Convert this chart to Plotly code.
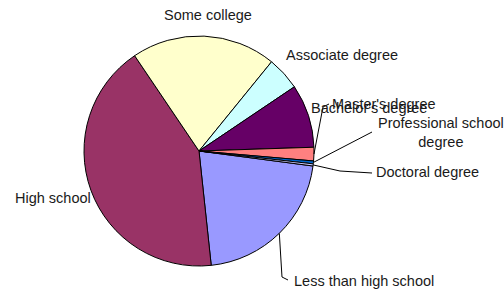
import math
import plotly.graph_objects as go

categories = ["Less than high school", "High school", "Some college", "Associate degree",
              "Bachelor's degree", "Master's degree", "Professional school degree", "Doctoral degree"]
values = [21.2, 42.2, 20.3, 4.7, 8.9, 1.9, 0.4, 0.3]
colors = ["#9999FF", "#993366", "#FFFFCC", "#CCFFFF", "#660066", "#FF8080", "#0066CC", "#CCCCFF"]

W, H = 504, 289
CX, CY, R = 199, 151, 115   # pie centre / radius in pixels (from top-left)
ROTATION = 97.5

fig = go.Figure(go.Pie(
    labels=categories, values=values, sort=False, direction="clockwise",
    rotation=ROTATION, textinfo="none", hoverinfo="label+percent",
    marker=dict(colors=colors, line=dict(color="#000000", width=1)),
    domain=dict(x=[(CX - R) / W, (CX + R) / W], y=[(H - CY - R) / H, (H - CY + R) / H]),
    showlegend=False,
))

# slice mid-points on the rim (derived from the values)
total = sum(values)
rim = {}
start = ROTATION
for cat, v in zip(categories, values):
    mid = start + 360 * v / total / 2
    b = math.radians(mid)
    rim[cat] = (CX + R * math.sin(b), CY - R * math.cos(b))
    start += 360 * v / total

def px(x, y):
    return x / W, 1 - y / H

def leader(cat, pts):
    allp = [rim[cat]] + pts
    path = "M " + " L ".join(f"{px(x, y)[0]:.5f},{px(x, y)[1]:.5f}" for x, y in allp)
    fig.add_shape(type="path", path=path, xref="paper", yref="paper",
                  line=dict(color="#000000", width=1))

leader("Master's degree", [(323, 107), (329, 104)])
leader("Professional school degree", [(372, 132)])
leader("Doctoral degree", [(340, 171), (372, 173)])
leader("Less than high school", [(282, 277), (288, 280)])

FONT = dict(family="Liberation Sans, Arial, sans-serif", size=14.5, color="#1a1a1a")
labels = [
    ("Some college", 208, 15, "center"),
    ("Associate degree", 284, 55, "left"),
    ("Bachelor's degree", 309, 108, "left"),
    ("Master's degree", 330, 104, "left"),
    ("Professional school<br>degree", 441, 133, "center"),
    ("Doctoral degree", 374, 172, "left"),
    ("High school", 13, 198, "left"),
    ("Less than high school", 292, 281, "left"),
]
for text, x, y, anchor in labels:
    xp, yp = px(x, y)
    fig.add_annotation(text=text, x=xp, y=yp, xref="paper", yref="paper",
                       xanchor=anchor, yanchor="middle", showarrow=False,
                       align="center", font=FONT)

fig.update_layout(width=W, height=H, margin=dict(l=0, r=0, t=0, b=0),
                  paper_bgcolor="white", plot_bgcolor="white")
fig.write_html("out.html", config={"displayModeBar": False},
               post_script="document.body.style.margin='0';document.body.style.overflow='hidden';")
